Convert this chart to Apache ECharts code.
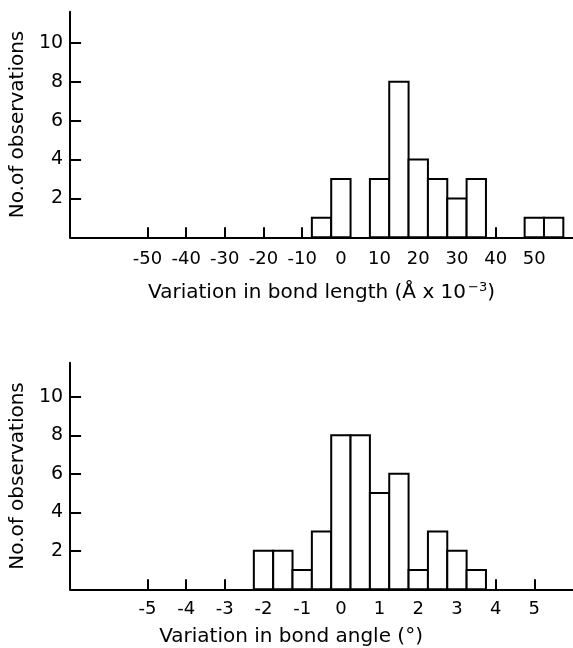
<!DOCTYPE html>
<html>
<head>
<meta charset="utf-8">
<script src="https://cdn.jsdelivr.net/npm/echarts@6/dist/echarts.min.js"></script>
<style>
html,body{margin:0;padding:0;background:#fff;}
#chart{width:573px;height:648px;}
</style>
</head>
<body>
<div id="chart"></div>
<script>
// ---- Data ----
// Bond length histogram (Å x 10^-3): bin centres, counts, bin width
var lengthBinCenters = [-5, 0, 10, 15, 20, 25, 30, 35, 50, 55];
var lengthCounts     = [ 1, 3,  3,  8,  4,  3,  2,  3,  1,  1];
var lengthBinWidth   = 5;
var lengthTicks      = [-50, -40, -30, -20, -10, 0, 10, 20, 30, 40, 50];

// Bond angle histogram (degrees)
var angleBinCenters = [-2, -1.5, -1, -0.5, 0, 0.5, 1, 1.5, 2, 2.5, 3, 3.5];
var angleCounts     = [ 2,    2,  1,    3, 8,   8, 5,   6, 1,   3, 2,   1];
var angleBinWidth   = 0.5;
var angleTicks      = [-5, -4, -3, -2, -1, 0, 1, 2, 3, 4, 5];

var countTicks = [2, 4, 6, 8, 10];

// ---- Chart ----
var FONT = 'DejaVu Sans';
var chart = echarts.init(document.getElementById('chart'), null, {renderer: 'canvas'});

function histData(centers, counts, w) {
  return centers.map(function (c, i) { return [c, counts[i], w]; });
}

function renderBar(params, api) {
  var c = api.value(0), v = api.value(1), w = api.value(2);
  var p0 = api.coord([c - w / 2, v]);
  var p1 = api.coord([c + w / 2, 0]);
  return {
    type: 'rect',
    shape: {x: p0[0], y: p0[1], width: p1[0] - p0[0], height: p1[1] - p0[1]},
    style: {fill: '#fff', stroke: '#000', lineWidth: 2}
  };
}

function xAxisCfg(idx, min, max, ticks, margin, name, gap, pad) {
  return {
    type: 'value', gridIndex: idx, min: min, max: max,
    splitLine: {show: false},
    axisLine: {show: true, onZero: false, lineStyle: {color: '#000', width: 2}},
    axisTick: {show: true, inside: true, length: 10, customValues: ticks, lineStyle: {color: '#000', width: 2}},
    axisLabel: {customValues: ticks, margin: margin, color: '#000', fontFamily: FONT, fontSize: 18},
    name: name, nameLocation: 'middle', nameGap: gap,
    nameTextStyle: {color: '#000', fontFamily: FONT, fontSize: 20, padding: pad,
      rich: {
        a: {color: '#000', fontFamily: FONT, fontSize: 20},
        sup: {color: '#000', fontFamily: FONT, fontSize: 13, verticalAlign: 'top', padding: [0, 0, 10, 2]}
      }}
  };
}

function yAxisCfg(idx, max) {
  return {
    type: 'value', gridIndex: idx, min: 0, max: max,
    splitLine: {show: false},
    axisLine: {show: true, onZero: false, lineStyle: {color: '#000', width: 2}},
    axisTick: {show: true, inside: true, length: 11, customValues: countTicks, lineStyle: {color: '#000', width: 2}},
    axisLabel: {customValues: countTicks, margin: 7, color: '#000', fontFamily: FONT, fontSize: 19},
    name: 'No.of observations', nameLocation: 'middle', nameGap: 39,
    nameTextStyle: {color: '#000', fontFamily: FONT, fontSize: 20}
  };
}

var option = {
  backgroundColor: '#fff',
  animation: false,
  grid: [
    {left: 67.5, top: 11.7, width: 510.5, height: 225.6},
    {left: 67.5, top: 362.7, width: 510.5, height: 226.6}
  ],
  xAxis: [
    xAxisCfg(0, -70, 60, lengthTicks, 13, '{a|Variation in bond length (Å x 10}{sup|−3}{a|)}', 44, [0, 0, 0, 0]),
    xAxisCfg(1, -7, 6, angleTicks, 11, 'Variation in bond angle (°)', 37, [0, 61, 0, 0])
  ],
  yAxis: [
    yAxisCfg(0, 11.6),
    yAxisCfg(1, 11.77)
  ],
  series: [
    {type: 'custom', xAxisIndex: 0, yAxisIndex: 0, renderItem: renderBar,
      data: histData(lengthBinCenters, lengthCounts, lengthBinWidth)},
    {type: 'custom', xAxisIndex: 1, yAxisIndex: 1, renderItem: renderBar,
      data: histData(angleBinCenters, angleCounts, angleBinWidth)}
  ]
};
chart.setOption(option);
</script>
</body>
</html>
